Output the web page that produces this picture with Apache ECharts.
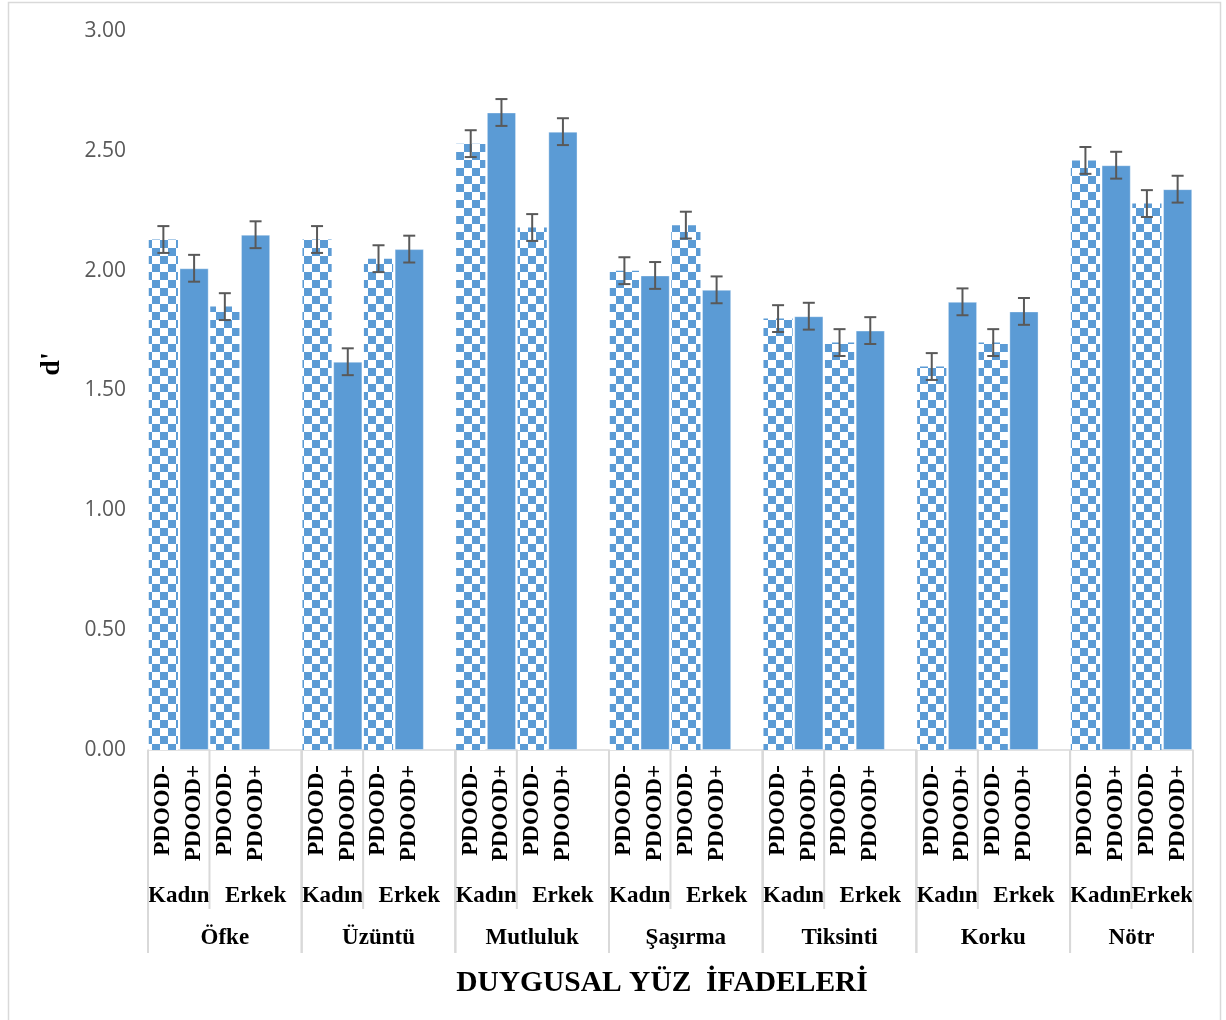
<!DOCTYPE html>
<html>
<head>
<meta charset="utf-8">
<script src="https://cdn.jsdelivr.net/npm/echarts@6/dist/echarts.min.js"></script>
<style>
  html, body { margin: 0; padding: 0; background: #ffffff; }
  #chart { width: 1226px; height: 1020px; }
</style>
</head>
<body>
<div id="chart"></div>
<script>
// Emotional facial expressions, d' sensitivity by gender and PDOOD group
const emotions = ['Öfke', 'Üzüntü', 'Mutluluk', 'Şaşırma', 'Tiksinti', 'Korku', 'Nötr'];
const genders = ['Kadın', 'Erkek'];
const conditions = ['PDOOD-', 'PDOOD+'];

const kadinMinus = [2.13, 2.13, 2.53, 2.00, 1.80, 1.60, 2.46];
const kadinPlus  = [2.01, 1.62, 2.66, 1.98, 1.81, 1.87, 2.44];
const erkekMinus = [1.85, 2.05, 2.18, 2.19, 1.70, 1.70, 2.28];
const erkekPlus  = [2.15, 2.09, 2.58, 1.92, 1.75, 1.83, 2.34];

// standard errors
const seKadinMinus = [0.056, 0.056, 0.056, 0.056, 0.056, 0.056, 0.056];
const seKadinPlus  = [0.056, 0.056, 0.056, 0.056, 0.056, 0.056, 0.056];
const seErkekMinus = [0.056, 0.056, 0.056, 0.056, 0.056, 0.056, 0.056];
const seErkekPlus  = [0.056, 0.056, 0.056, 0.056, 0.056, 0.056, 0.056];

const yAxisTitle = "d'";
const xAxisTitle = 'DUYGUSAL YÜZ  İFADELERİ';

const BLUE = '#5B9BD5';
const SERIF = '"Liberation Serif", "Times New Roman", serif';

// checkerboard fill for the PDOOD- bars
function checkerPattern(cell) {
  const c = document.createElement('canvas');
  c.width = cell * 2; c.height = cell * 2;
  const ctx = c.getContext('2d');
  ctx.fillStyle = '#ffffff';
  ctx.fillRect(0, 0, c.width, c.height);
  ctx.fillStyle = BLUE;
  ctx.fillRect(0, 0, cell, cell);
  ctx.fillRect(cell, cell, cell, cell);
  return c;
}

// Leaf categories: emotion > gender > condition, with an empty slot between emotions
const leaves = [];
const minusData = [];
const plusData = [];
const errorData = [];
const spanData = [];   // [start, end, 0]
const spanText = [];
const spanLevel = [];  // 0 = gender, 1 = emotion

emotions.forEach((emo, i) => {
  const groupStart = leaves.length;
  const byGender = [
    [kadinMinus[i], kadinPlus[i], seKadinMinus[i], seKadinPlus[i]],
    [erkekMinus[i], erkekPlus[i], seErkekMinus[i], seErkekPlus[i]]
  ];
  const genderStarts = [];
  byGender.forEach((vals, g) => {
    genderStarts.push(leaves.length);
    conditions.forEach((cond, k) => {
      const idx = leaves.length;
      leaves.push(cond);
      const v = vals[k];
      if (k === 0) { minusData.push(v); plusData.push('-'); }
      else { minusData.push('-'); plusData.push(v); }
      errorData.push([idx, v - vals[k + 2], v + vals[k + 2]]);
    });
  });
  if (i < emotions.length - 1) {
    leaves.push('');
    minusData.push('-');
    plusData.push('-');
  }
  const groupEnd = leaves.length - 1;
  spanData.push([genderStarts[0], genderStarts[0] + 1, 0]); spanText.push(genders[0]); spanLevel.push(0);
  spanData.push([genderStarts[1], groupEnd, 0]); spanText.push(genders[1]); spanLevel.push(0);
  spanData.push([groupStart, groupEnd, 0]); spanText.push(emo); spanLevel.push(1);
});

const chart = echarts.init(document.getElementById('chart'), null, { renderer: 'canvas' });

const option = {
  animation: false,
  backgroundColor: '#ffffff',
  grid: { left: 148, right: 33, top: 31, bottom: 270, containLabel: false },
  xAxis: {
    type: 'category',
    data: leaves,
    axisLine: { show: true, lineStyle: { color: '#d9d9d9', width: 1.5 } },
    axisTick: { show: false },
    axisLabel: {
      interval: 0,
      rotate: 90,
      margin: 15,
      color: '#000000',
      fontFamily: SERIF,
      fontWeight: 'bold',
      fontSize: 23
    },
    splitLine: { show: false }
  },
  yAxis: {
    type: 'value',
    min: 0,
    max: 3,
    interval: 0.5,
    axisLine: { show: false },
    axisTick: { show: false },
    splitLine: { show: false },
    axisLabel: {
      margin: 22,
      color: '#595959',
      fontFamily: '"Open Sans", "Liberation Sans", sans-serif',
      fontSize: 21,
      formatter: v => v.toFixed(2)
    }
  },
  series: [
    {
      name: 'PDOOD-',
      type: 'bar',
      data: minusData,
      barWidth: '95%',
      barGap: '-100%',
      itemStyle: {
        color: { image: checkerPattern(8), repeat: 'repeat' }
      }
    },
    {
      name: 'PDOOD+',
      type: 'bar',
      data: plusData,
      barWidth: '95%',
      barGap: '-100%',
      itemStyle: { color: BLUE, borderColor: 'rgba(255,255,255,0.35)', borderWidth: 1 }
    },
    {
      name: 'SE',
      type: 'custom',
      data: errorData,
      encode: { x: 0, y: [1, 2] },
      z: 10,
      renderItem: (params, api) => {
        const x = api.coord([api.value(0), 0])[0];
        const lo = api.coord([api.value(0), api.value(1)])[1];
        const hi = api.coord([api.value(0), api.value(2)])[1];
        const half = 6;
        const style = { stroke: '#595959', lineWidth: 2 };
        return {
          type: 'group',
          children: [
            { type: 'line', shape: { x1: x, y1: lo, x2: x, y2: hi }, style },
            { type: 'line', shape: { x1: x - half, y1: lo, x2: x + half, y2: lo }, style },
            { type: 'line', shape: { x1: x - half, y1: hi, x2: x + half, y2: hi }, style }
          ]
        };
      }
    },
    {
      name: 'levels',
      type: 'custom',
      data: spanData,
      encode: { x: [0, 1], y: 2 },
      clip: false,
      silent: true,
      renderItem: (params, api) => {
        const i = params.dataIndex;
        const band = api.size([1, 0])[0];
        const s = api.coord([api.value(0), 0]);
        const e = api.coord([api.value(1), 0]);
        const x0 = s[0] - band / 2;
        const x1 = e[0] + band / 2;
        const y0 = s[1];
        const lineStyle = { stroke: '#d9d9d9', lineWidth: 2 };
        const textStyle = {
          fill: '#000000',
          font: 'bold 23px ' + SERIF,
          align: 'center',
          verticalAlign: 'middle'
        };
        const children = [];
        if (spanLevel[i] === 0) {
          children.push({ type: 'line', shape: { x1: x0, y1: y0, x2: x0, y2: y0 + 159 }, style: lineStyle });
          children.push({ type: 'text', style: Object.assign({ text: spanText[i], x: (x0 + x1) / 2, y: y0 + 146 }, textStyle) });
        } else {
          children.push({ type: 'line', shape: { x1: x0, y1: y0, x2: x0, y2: y0 + 203 }, style: lineStyle });
          children.push({ type: 'line', shape: { x1: x1, y1: y0, x2: x1, y2: y0 + 203 }, style: lineStyle });
          children.push({ type: 'text', style: Object.assign({ text: spanText[i], x: (x0 + x1) / 2, y: y0 + 188 }, textStyle) });
        }
        return { type: 'group', children };
      }
    }
  ],
  graphic: [
    {
      type: 'rect',
      shape: { x: 8.5, y: 2.5, width: 1212, height: 1040 },
      style: { fill: 'none', stroke: '#d9d9d9', lineWidth: 1.5 },
      silent: true
    },
    {
      type: 'text',
      x: 52, y: 364,
      rotation: Math.PI / 2,
      style: {
        text: yAxisTitle,
        font: 'bold 28px ' + SERIF,
        fill: '#000000',
        align: 'center',
        verticalAlign: 'middle'
      }
    },
    {
      type: 'text',
      x: 662, y: 983,
      style: {
        text: xAxisTitle,
        font: 'bold 29.5px ' + SERIF,
        fill: '#000000',
        align: 'center',
        verticalAlign: 'middle'
      }
    }
  ]
};

chart.setOption(option);
</script>
</body>
</html>
